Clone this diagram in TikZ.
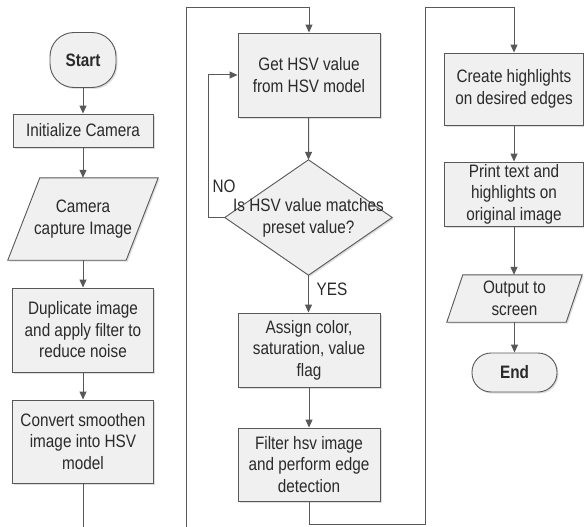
\documentclass[tikz,border=0pt]{standalone}
\usepackage{fontspec}
\setmainfont{Liberation Sans}[FakeStretch=0.85]
\usetikzlibrary{arrows.meta,shadows}
\definecolor{linec}{HTML}{585858}
\definecolor{boxfill}{HTML}{F0F0F0}
\definecolor{txt}{HTML}{2A2A2A}
\begin{document}
\begin{tikzpicture}[x=1pt,y=-1pt,
  font=\fontsize{18}{21.5}\selectfont,
  boxbase/.style={draw=linec, line width=0.9pt, fill=boxfill,
    drop shadow={shadow xshift=1.5pt, shadow yshift=-1.5pt, fill=black!25, opacity=0.5}},
  procbox/.style={boxbase, align=center, inner sep=0pt, text=txt},
  termbox/.style={procbox},
  holder/.style={align=center, inner sep=0pt, text=txt},
  flow/.style={draw=linec, line width=1pt, -{Triangle[length=8pt,width=7pt]}},
  lbl/.style={text=txt, inner sep=0pt}
]
\useasboundingbox (0,0) rectangle (584,527);
\clip (0,0) rectangle (584,527);
\fill[white] (0,0) rectangle (584,527);

% column 1
\node[termbox, minimum width=66pt, minimum height=55pt, rounded corners=24pt] (start) at (83,60) {\textbf{Start}};
\node[procbox, minimum width=140pt, minimum height=33pt] (init) at (83,130.5) {Initialize Camera};
\node[holder, minimum width=150pt, minimum height=82pt] (cap) at (83,219) {};
\path[boxbase] ([xshift=32pt]cap.north west) -- (cap.north east) -- ([xshift=-32pt]cap.south east) -- (cap.south west) -- cycle;
\node[holder] at (cap.center) {Camera\\capture Image};
\node[procbox, minimum width=141pt, minimum height=84pt] (dup) at (83,330) {Duplicate image\\and apply filter to\\reduce noise};
\node[procbox, minimum width=141pt, minimum height=83pt] (conv) at (83,441.5) {Convert smoothen\\image into HSV\\model};

% column 2
\node[procbox, minimum width=142pt, minimum height=84pt] (get) at (309,75) {Get HSV value\\from HSV model};
\node[holder, minimum width=167pt, minimum height=115pt] (dia) at (308.5,217.5) {};
\path[boxbase] (dia.north) -- (dia.east) -- (dia.south) -- (dia.west) -- cycle;
\node[holder] at ([yshift=-0.5pt]dia.center) {Is HSV value matches\\preset value?};
\node[procbox, minimum width=142pt, minimum height=74pt] (assign) at (309,350) {Assign color,\\saturation, value\\flag};
\node[procbox, minimum width=142pt, minimum height=73pt] (filt) at (309,464.5) {Filter hsv image\\and perform edge\\detection};
\node[lbl] (nolbl) at (224,186) {NO};
\node[lbl] (yeslbl) at (332,289) {YES};

% column 3
\node[procbox, minimum width=139pt, minimum height=72pt] (create) at (514,89) {Create highlights\\on desired edges};
\node[procbox, minimum width=139pt, minimum height=64pt] (print) at (514,194) {Print text and\\highlights on\\original image};
\node[holder, minimum width=135pt, minimum height=47pt] (out) at (514.5,298.5) {};
\path[boxbase] ([xshift=16pt]out.north west) -- (out.north east) -- ([xshift=-16pt]out.south east) -- (out.south west) -- cycle;
\node[holder] at (out.center) {Output to\\screen};
\node[termbox, minimum width=85pt, minimum height=39pt, rounded corners=19pt] (end) at (514.5,372.5) {\textbf{End}};

% routing points
\coordinate (b1) at (186,545);
\coordinate (t1) at (186,7.5);
\coordinate (b2) at (425,524);
\coordinate (t2) at (425,7.5);
\coordinate (nl) at (208,0);

% connectors
\draw[flow] (start) -- (init);
\draw[flow] (init) -- (init.south |- cap.north);
\draw[flow] (cap.south) -- (dup);
\draw[flow] (dup) -- (conv);
\draw[flow] (conv.south) -- (conv.south |- b1) -- (b1) -- (t1) -- (t1 -| get.north) -- (get.north);
\draw[flow] (get) -- (dia.north);
\draw[flow] (dia.west) -- (dia.west -| nl) |- (get.west);
\draw[flow] (dia.south) -- (assign.north -| dia.south);
\draw[flow] (assign) -- (filt);
\draw[flow] (filt.south) -- (filt.south |- b2) -- (b2) -- (t2) -- (t2 -| create.north) -- (create.north);
\draw[flow] (create) -- (print);
\draw[flow] (print.south) -- (print.south |- out.north);
\draw[flow] (out.south -| end.north) -- (end.north);
\end{tikzpicture}
\end{document}
